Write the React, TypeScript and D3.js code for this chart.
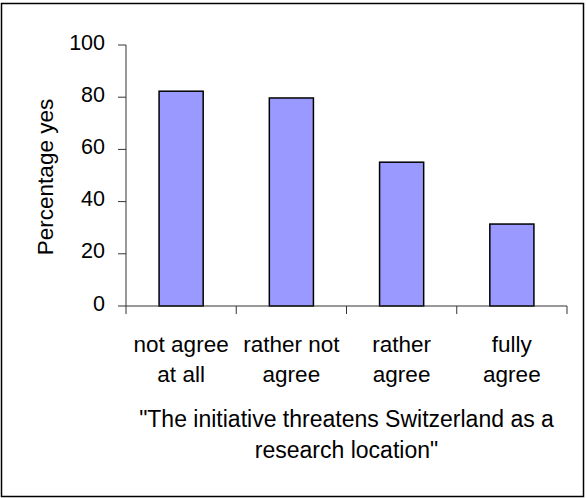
import React from "react";
import * as d3 from "d3";

const categories = ["not agree at all", "rather not agree", "rather agree", "fully agree"];
const categoryLines = [["not agree", "at all"], ["rather not", "agree"], ["rather", "agree"], ["fully", "agree"]];
const values = [82.3, 79.7, 55.1, 31.4];
const yTicks = [0, 20, 40, 60, 80, 100];
const yTitle = "Percentage yes";
const xTitleLines = ["\"The initiative threatens Switzerland as a", "research location\""];

const W = 587, H = 498;
const left = 126, right = 567, top = 45, bottom = 306;
const font = "'Liberation Sans', Arial, sans-serif";

export default function App() {
  const x = d3.scaleBand<string>().domain(categories).range([left, right]).paddingInner(0.6).paddingOuter(0.3);
  const y = d3.scaleLinear().domain([0, 100]).range([bottom, top]);
  const step = x.step();
  const bounds = d3.range(categories.length + 1).map((i) => left + i * step);
  const cx = (left + right) / 2;
  return (
    <svg width={W} height={H} style={{ position: "absolute", left: 0, top: 0, background: "#fff" }} fontFamily={font}>
      <rect x={1.5} y={3.5} width={582} height={493} fill="#fff" stroke="#000" strokeWidth={1.5} />
      {values.map((v, i) => (
        <rect key={i} x={x(categories[i])!} y={y(v)} width={x.bandwidth()} height={y(0) - y(v)} fill="#9999ff" stroke="#000" strokeWidth={1.5} />
      ))}
      <line x1={left} x2={left} y1={top} y2={bottom} stroke="#333" strokeWidth={1} />
      <line x1={left} x2={right} y1={bottom} y2={bottom} stroke="#333" strokeWidth={1} />
      {yTicks.map((t) => (
        <g key={t}>
          <line x1={left - 8} x2={left} y1={y(t)} y2={y(t)} stroke="#333" strokeWidth={1} />
          <text x={105} y={y(t) + 4.5} textAnchor="end" fontSize={21.5} fill="#000">{t}</text>
        </g>
      ))}
      {bounds.map((b, i) => (
        <line key={i} x1={b} x2={b} y1={bottom} y2={bottom + 8} stroke="#333" strokeWidth={1} />
      ))}
      {categoryLines.map((lines, i) => (
        <text key={i} textAnchor="middle" fontSize={22.5} fill="#000">
          {lines.map((l, j) => (
            <tspan key={j} x={x(categories[i])! + x.bandwidth() / 2} y={352 + j * 30}>{l}</tspan>
          ))}
        </text>
      ))}
      <text transform={`translate(53,177) rotate(-90)`} textAnchor="middle" fontSize={22.5} fill="#000">{yTitle}</text>
      {xTitleLines.map((l, j) => (
        <text key={j} x={cx} y={427 + j * 31} textAnchor="middle" fontSize={23} fill="#000">{l}</text>
      ))}
    </svg>
  );
}
